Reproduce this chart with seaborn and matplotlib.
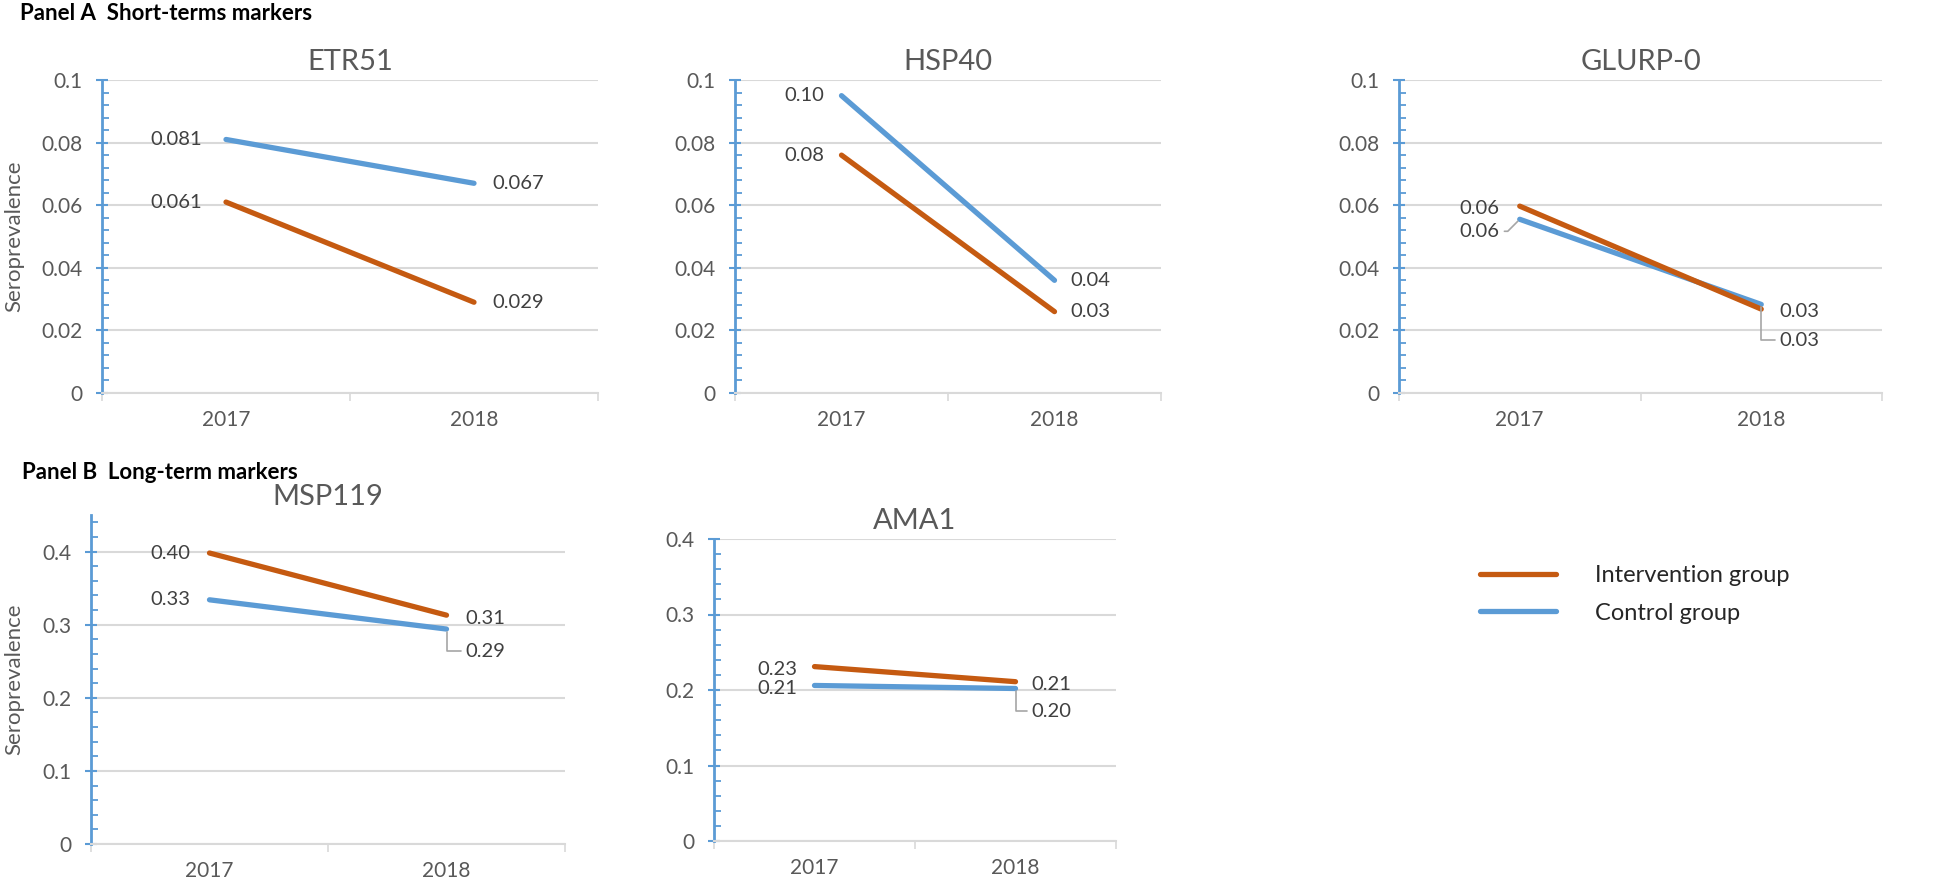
import pandas as pd
import matplotlib.pyplot as plt
import seaborn as sns
from matplotlib.ticker import MultipleLocator, FuncFormatter

# ----------------------------------------------------
# Data (seroprevalence by survey year)
# ----------------------------------------------------
years = ["2017", "2018"]
groups = ["Intervention group", "Control group"]

etr51_intervention = [0.061, 0.029]
etr51_control = [0.081, 0.067]
hsp40_intervention = [0.076, 0.026]
hsp40_control = [0.095, 0.036]
glurp_intervention = [0.0597, 0.0268]
glurp_control = [0.0555, 0.0283]
msp119_intervention = [0.398, 0.313]
msp119_control = [0.334, 0.294]
ama1_intervention = [0.231, 0.211]
ama1_control = [0.206, 0.202]

marker_names = ["ETR51", "HSP40", "GLURP-0", "MSP119", "AMA1"]
label_decimals = [3, 2, 2, 2, 2]

# ----------------------------------------------------
# Styling
# ----------------------------------------------------
ORANGE = "#C55A11"
BLUE = "#5B9BD5"
GRID = "#D9D9D9"
TEXT = "#595959"
palette = {"Intervention group": ORANGE, "Control group": BLUE}

sns.set_theme(style="white")
plt.rcParams["font.family"] = ["Lato", "DejaVu Sans"]

W, H = 1960, 880
fig = plt.figure(figsize=(W / 100, H / 100), dpi=100)


def px_rect(x0, x1, y0, y1):
    return [x0 / W, 1 - y1 / H, (x1 - x0) / W, (y1 - y0) / H]


# (rect in px, ymax, major step, minor step, ylabel x in axes fraction)
layout = [
    (px_rect(102, 598, 80, 393), 0.1, 0.02, 0.004, -0.157),
    (px_rect(735, 1161, 80, 393), 0.1, 0.02, 0.004, None),
    (px_rect(1399, 1882, 80, 393), 0.1, 0.02, 0.004, None),
    (px_rect(91, 565, 515, 844), 0.45, 0.1, 0.02, -0.141),
    (px_rect(714, 1116, 539, 841), 0.4, 0.1, 0.02, None),
]

# label offsets in pixels: (group, year index) -> (dx, dy, leader)
label_offsets = [
    {},
    {},
    {("Intervention group", 0): (-20, -2, None),
     ("Control group", 0): (-20, -12, "angle,angleA=0,angleB=45"),
     ("Intervention group", 1): (18, -2, None),
     ("Control group", 1): (18, -36, "angle,angleA=0,angleB=90")},
    {("Intervention group", 1): (19, -3, None),
     ("Control group", 1): (19, -22, "angle,angleA=0,angleB=90")},
    {("Intervention group", 0): (-17, -3, None),
     ("Control group", 0): (-17, -3, None),
     ("Intervention group", 1): (16, -3, None),
     ("Control group", 1): (16, -23, "angle,angleA=0,angleB=90")},
]
default_dx = [(-24, 18), (-17, 16), (-20, 18), (-19, 19), (-17, 16)]

series = [
    (etr51_intervention, etr51_control),
    (hsp40_intervention, hsp40_control),
    (glurp_intervention, glurp_control),
    (msp119_intervention, msp119_control),
    (ama1_intervention, ama1_control),
]

axes = []
for i, name in enumerate(marker_names):
    inter, ctrl = series[i]
    df = pd.DataFrame({
        "year": years * 2,
        "value": list(inter) + list(ctrl),
        "group": [groups[0]] * len(years) + [groups[1]] * len(years),
    })
    rect, ymax, major, minor, ylab_x = layout[i]
    ax = fig.add_axes(rect)
    axes.append(ax)
    sns.lineplot(data=df, x="year", y="value", hue="group",
                 hue_order=["Control group", "Intervention group"],
                 palette=palette, linewidth=3.8, errorbar=None,
                 legend=False, ax=ax)
    for ln in ax.get_lines():
        ln.set_solid_capstyle("round")

    ax.set_xlim(-0.5, 1.5)
    ax.set_ylim(0, ymax)
    top_major = 0.4 if ymax > 0.1 else 0.1
    ax.set_yticks([k * major for k in range(int(round(top_major / major)) + 1)])
    ax.yaxis.set_minor_locator(MultipleLocator(minor))
    ax.yaxis.set_major_formatter(FuncFormatter(lambda v, p: f"{v:g}"))
    ax.set_xticks(range(len(years)))
    ax.set_xticklabels(years)
    ax.set_xticks([-0.5, 0.5, 1.5], minor=True)

    ax.grid(axis="y", which="major", color=GRID, linewidth=1.5)
    ax.set_axisbelow(True)
    for s in ["top", "right"]:
        ax.spines[s].set_visible(False)
    ax.spines["left"].set_color(BLUE)
    ax.spines["left"].set_linewidth(2)
    ax.spines["bottom"].set_color(GRID)
    ax.spines["bottom"].set_linewidth(1.5)

    ax.tick_params(axis="y", which="major", direction="inout", length=8.5,
                   width=1.5, color=BLUE, labelsize=15, labelcolor=TEXT, pad=10,
                   left=True)
    ax.tick_params(axis="y", which="minor", direction="in", length=5,
                   width=1.3, color=BLUE, left=True)
    ax.tick_params(axis="x", which="major", length=0, labelsize=15,
                   labelcolor=TEXT, pad=12)
    ax.tick_params(axis="x", which="minor", direction="out", length=6,
                   width=1.2, color=GRID, bottom=True)

    ax.set_title(name, fontsize=21, color=TEXT, pad=7)
    ax.set_xlabel("")
    if ylab_x is not None:
        ax.set_ylabel("Seroprevalence", fontsize=16, color=TEXT)
        ax.yaxis.set_label_coords(ylab_x, 0.5)
    else:
        ax.set_ylabel("")

    # data labels
    for grp, vals in zip(groups, (inter, ctrl)):
        for j, v in enumerate(vals):
            dx, dy, leader = label_offsets[i].get((grp, j), (default_dx[i][j], 0, None))
            ha = "right" if j == 0 else "left"
            kw = {}
            if leader:
                kw["arrowprops"] = dict(arrowstyle="-", color="#A6A6A6", lw=1.2,
                                        connectionstyle=leader,
                                        relpos=(1, 0.5) if j == 0 else (0, 0.5),
                                        shrinkA=1, shrinkB=2)
            ax.annotate(f"{v:.{label_decimals[i]}f}", xy=(j, v),
                        xytext=(dx, dy), textcoords="offset pixels",
                        ha=ha, va="center", fontsize=14.5, color="#404040", **kw)

# legend
lines = {ln.get_color(): ln for ln in axes[0].get_lines()}
handles = [lines[ORANGE], lines[BLUE]]
fig.legend(handles, groups, loc="upper left",
           bbox_to_anchor=(1480 / W, 1 - 565 / H), frameon=False,
           fontsize=17, handlelength=3.2, handletextpad=1.65,
           labelspacing=0.7, borderpad=0, borderaxespad=0)

fig.text(20 / W, 1 - 13 / H, "Panel A  Short-terms markers",
         fontsize=16, fontweight="bold", color="black", va="center")
fig.text(22 / W, 1 - 472 / H, "Panel B  Long-term markers",
         fontsize=16, fontweight="bold", color="black", va="center")

fig.savefig("out.png", dpi=100)
